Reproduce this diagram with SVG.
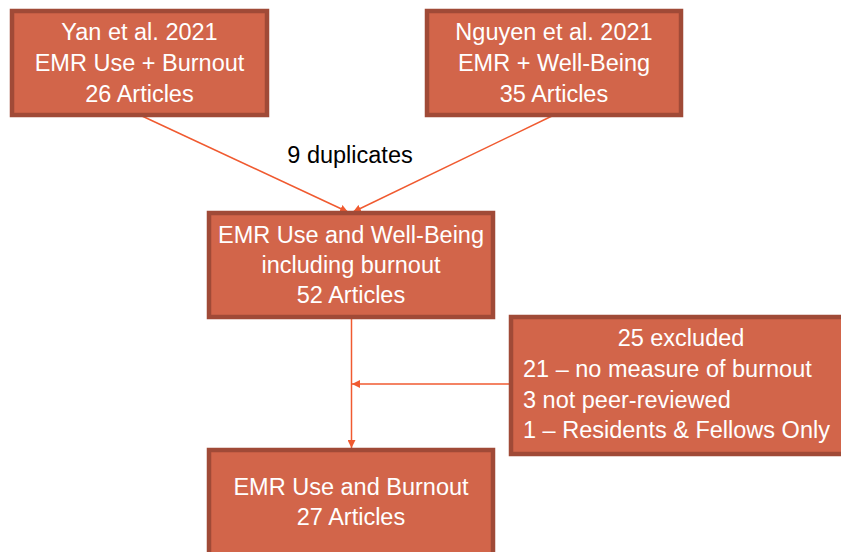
<svg xmlns="http://www.w3.org/2000/svg" width="841" height="552" viewBox="0 0 841 552">
<defs>
<style>
.box{fill:#d2654a;stroke:#a04a37;stroke-width:4.5}
.t{font-family:"Liberation Sans",Arial,sans-serif;font-size:23.5px;fill:#ffffff;text-anchor:middle}
.tl{font-family:"Liberation Sans",Arial,sans-serif;font-size:23.5px;fill:#ffffff}
.lbl{font-family:"Liberation Sans",Arial,sans-serif;font-size:23.5px;fill:#000000;text-anchor:middle}
.c{stroke:#f05a30;stroke-width:1.5;fill:none}
</style>
<marker id="ah" viewBox="0 0 10 10" refX="10" refY="5" markerWidth="8" markerHeight="8" markerUnits="userSpaceOnUse" orient="auto">
<path d="M0,0 L10,5 L0,10 z" fill="#f05a30"/>
</marker>
</defs>
<rect width="841" height="552" fill="#ffffff"/>
<g id="connectors">
<line class="c" x1="142" y1="116" x2="348" y2="212" marker-end="url(#ah)"/>
<line class="c" x1="552" y1="116" x2="353" y2="212" marker-end="url(#ah)"/>
<line class="c" x1="351.5" y1="319" x2="351.5" y2="448" marker-end="url(#ah)"/>
<line class="c" x1="511" y1="384" x2="352" y2="384" marker-end="url(#ah)"/>
<text class="lbl" x="350" y="163">9 duplicates</text>
</g>
<g id="yan">
<rect class="box" x="12" y="11" width="255" height="104"/>
<text class="t" x="139.5" y="40">Yan et al. 2021</text>
<text class="t" x="139.5" y="71">EMR Use + Burnout</text>
<text class="t" x="139.5" y="102">26 Articles</text>
</g>
<g id="nguyen">
<rect class="box" x="427" y="11" width="254" height="104"/>
<text class="t" x="554" y="40">Nguyen et al. 2021</text>
<text class="t" x="554" y="71">EMR + Well-Being</text>
<text class="t" x="554" y="102">35 Articles</text>
</g>
<g id="wellbeing">
<rect class="box" x="209" y="213" width="284" height="104"/>
<text class="t" x="351" y="243">EMR Use and Well-Being</text>
<text class="t" x="351" y="273">including burnout</text>
<text class="t" x="351" y="303">52 Articles</text>
</g>
<g id="excluded">
<rect class="box" x="511" y="317" width="342" height="137"/>
<text class="t" x="681" y="346">25 excluded</text>
<text class="tl" x="523" y="377">21 – no measure of burnout</text>
<text class="tl" x="523" y="408">3 not peer-reviewed</text>
<text class="tl" x="523" y="438">1 – Residents &amp; Fellows Only</text>
</g>
<g id="burnout">
<rect class="box" x="209" y="450" width="284" height="110"/>
<text class="t" x="351" y="495">EMR Use and Burnout</text>
<text class="t" x="351" y="525">27 Articles</text>
</g>
</svg>
